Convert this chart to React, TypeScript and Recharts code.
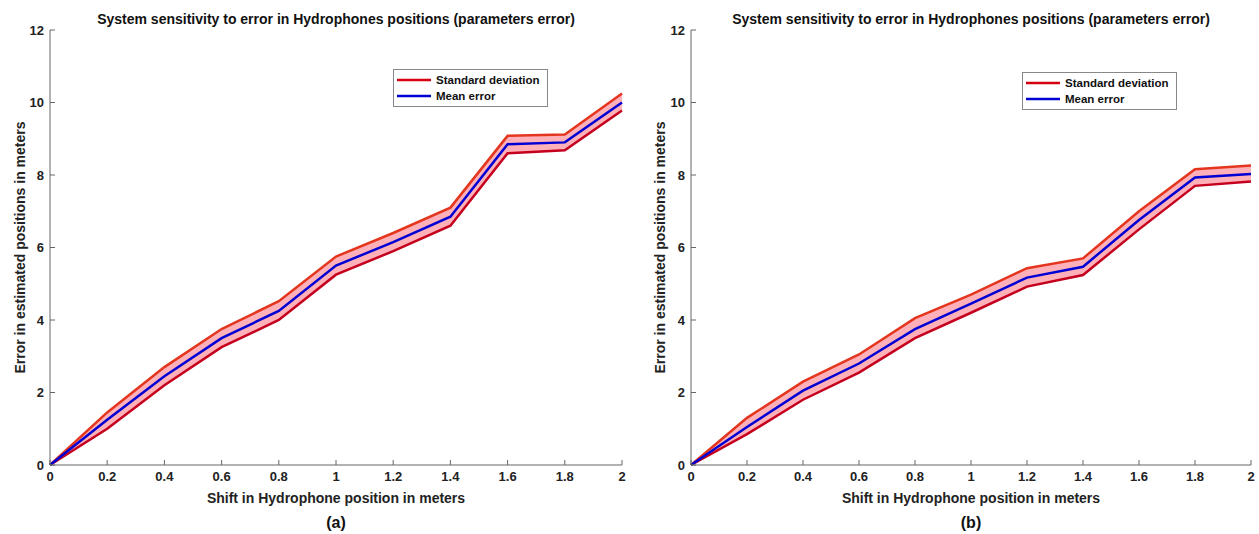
import { Area, ComposedChart, Legend, Line, XAxis, YAxis } from "recharts"

const shift = [0, 0.2, 0.4, 0.6, 0.8, 1, 1.2, 1.4, 1.6, 1.8, 2]
const xTicks = [0, 0.2, 0.4, 0.6, 0.8, 1, 1.2, 1.4, 1.6, 1.8, 2]
const yTicks = [0, 2, 4, 6, 8, 10, 12]

// panel (a)
const meanA = [0, 1.25, 2.45, 3.5, 4.25, 5.5, 6.15, 6.85, 8.85, 8.9, 10.0]
const upperA = [0, 1.45, 2.7, 3.75, 4.52, 5.75, 6.4, 7.1, 9.08, 9.12, 10.25]
const lowerA = [0, 1.0, 2.2, 3.25, 4.0, 5.25, 5.9, 6.6, 8.6, 8.68, 9.78]

// panel (b)
const meanB = [0, 1.05, 2.05, 2.8, 3.75, 4.45, 5.17, 5.47, 6.76, 7.93, 8.03]
const upperB = [0, 1.3, 2.3, 3.05, 4.05, 4.7, 5.43, 5.7, 7.0, 8.16, 8.26]
const lowerB = [0, 0.85, 1.8, 2.55, 3.5, 4.2, 4.92, 5.24, 6.5, 7.7, 7.82]

const title = "System sensitivity to error in Hydrophones positions (parameters error)"
const xLabel = "Shift in Hydrophone position in meters"
const yLabel = "Error in estimated positions in meters"
const legendNames = ["Standard deviation", "Mean error"]

const FONT = "'Liberation Sans', Arial, sans-serif"
const UPPER_COLOR = "#e4361e"
const LOWER_COLOR = "#c4001e"
const MEAN_COLOR = "#0000d4"
const BAND_COLOR = "#ffb0b8"
const AXIS_COLOR = "#666"

const tickStyle = { fontFamily: FONT, fontSize: 13, fontWeight: 700, fill: "#222" }
const labelStyle = { fontFamily: FONT, fontSize: 14, fontWeight: 700, fill: "#222" }

function LegendBox() {
  const items = [
    { name: legendNames[0], color: "#d40010" },
    { name: legendNames[1], color: MEAN_COLOR },
  ]
  return (
    <div style={{ border: "1px solid #888", background: "#fff", padding: "2px 3px", fontFamily: FONT, fontSize: 11.5, fontWeight: 700, color: "#111", whiteSpace: "nowrap" }}>
      {items.map(it => (
        <div key={it.name} style={{ display: "flex", alignItems: "center", height: 16 }}>
          <svg width={34} height={4} style={{ marginRight: 5 }}>
            <line x1={0} y1={2} x2={34} y2={2} stroke={it.color} strokeWidth={2.5} />
          </svg>
          {it.name}
        </div>
      ))}
    </div>
  )
}

function Panel({ mean, upper, lower, tag, left, width, yAxisWidth, rightMargin, legendLeft, legendTop }) {
  const data = shift.map((x, i) => ({ x, mean: mean[i], upper: upper[i], lower: lower[i], band: [lower[i], upper[i]] }))
  const plotLeft = yAxisWidth
  const plotWidth = width - yAxisWidth - rightMargin
  return (
    <div style={{ position: "absolute", left, top: 0, width, height: 534 }}>
      <div style={{ position: "absolute", left: plotLeft, width: plotWidth, top: 11, textAlign: "center", fontFamily: FONT, fontSize: 14, fontWeight: 700, color: "#111", whiteSpace: "nowrap" }}>
        {title}
      </div>
      <ComposedChart width={width} height={534} data={data} margin={{ top: 30, right: rightMargin, bottom: 29, left: 0 }}>
        <XAxis dataKey="x" type="number" domain={[0, 2]} ticks={xTicks} height={40}
          stroke={AXIS_COLOR} tickSize={-5} tickMargin={12} tick={tickStyle}
          label={{ value: xLabel, position: "insideBottom", offset: 2, style: labelStyle }} />
        <XAxis xAxisId="top" orientation="top" dataKey="x" type="number" domain={[0, 2]} ticks={xTicks} height={0}
          stroke={AXIS_COLOR} tickSize={-5} tick={() => <g />} />
        <YAxis type="number" domain={[0, 12]} ticks={yTicks} width={yAxisWidth}
          stroke={AXIS_COLOR} tickSize={-5} tickMargin={11} tick={tickStyle}
          label={{ value: yLabel, angle: -90, position: "insideLeft", offset: 20, style: { ...labelStyle, textAnchor: "middle" } }} />
        <YAxis yAxisId="right" orientation="right" type="number" domain={[0, 12]} ticks={yTicks} width={0}
          stroke={AXIS_COLOR} tickSize={-5} tick={() => <g />} />
        <Area dataKey="band" type="linear" fill={BAND_COLOR} fillOpacity={1} stroke="none" isAnimationActive={false} />
        <Line dataKey="lower" type="linear" stroke={LOWER_COLOR} strokeWidth={2.5} dot={false} isAnimationActive={false} />
        <Line dataKey="upper" type="linear" stroke={UPPER_COLOR} strokeWidth={2.5} dot={false} isAnimationActive={false} />
        <Line dataKey="mean" type="linear" stroke={MEAN_COLOR} strokeWidth={2.5} dot={false} isAnimationActive={false} />
        <Legend layout="vertical" align="center" verticalAlign="middle" content={() => <LegendBox />}
          wrapperStyle={{ left: legendLeft, top: legendTop, width: 155 }} />
      </ComposedChart>
      <div style={{ position: "absolute", left: plotLeft, width: plotWidth, top: 514, textAlign: "center", fontFamily: FONT, fontSize: 16, fontWeight: 700, color: "#111" }}>
        {tag}
      </div>
    </div>
  )
}

export default function App() {
  return (
    <div style={{ position: "relative", width: 1259, height: 534, background: "#fff" }}>
      <style>{`body{margin:0;overflow:hidden}`}</style>
      <Panel mean={meanA} upper={upperA} lower={lowerA} tag="(a)" left={0} width={640} yAxisWidth={50} rightMargin={18} legendLeft={393} legendTop={69} />
      <Panel mean={meanB} upper={upperB} lower={lowerB} tag="(b)" left={640} width={619} yAxisWidth={51} rightMargin={8} legendLeft={382} legendTop={72} />
    </div>
  )
}
